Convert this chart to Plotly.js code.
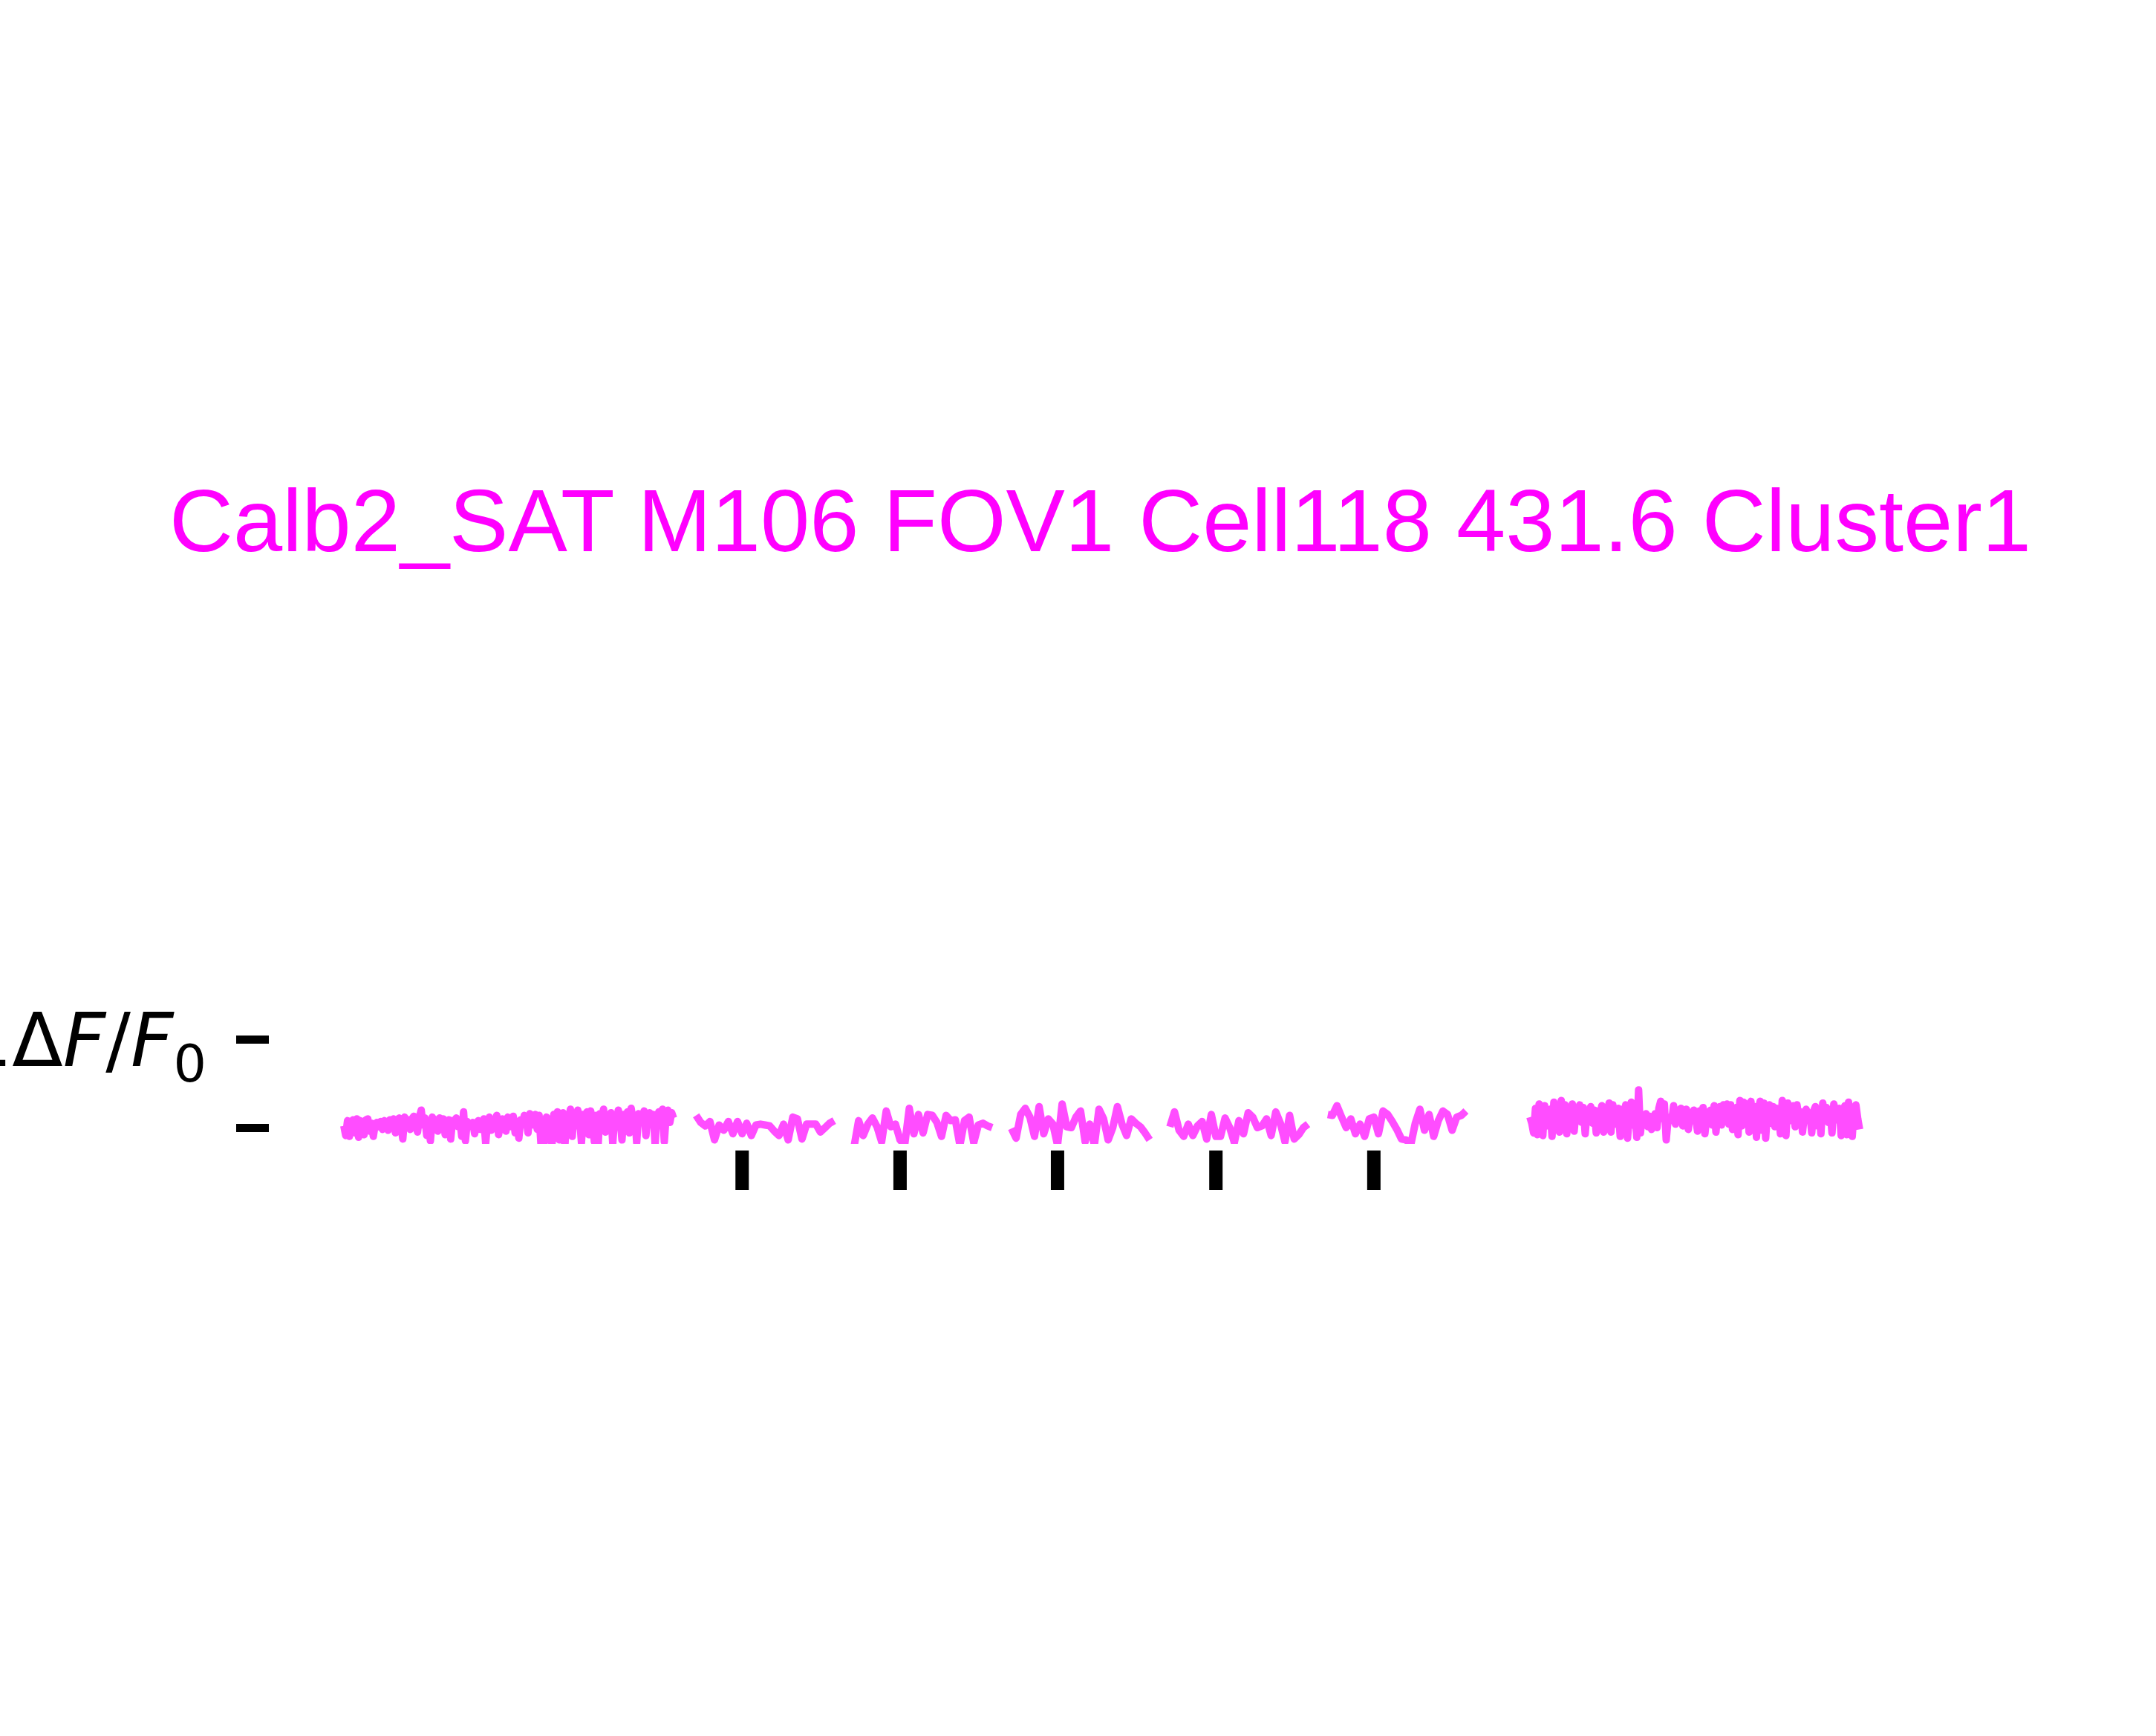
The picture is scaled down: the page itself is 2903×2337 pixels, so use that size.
<!DOCTYPE html>
<html>
<head>
<meta charset="utf-8">
<script src="https://cdn.plot.ly/plotly-3.0.1.min.js"></script>
<style>
  html, body { margin: 0; padding: 0; background: #fff; }
  #chart { width: 2903px; height: 2337px; }
  /* rounded corners on the noisy traces, like the original renderer */
  #chart .scatterlayer .js-line { stroke-linejoin: round !important; }
</style>
</head>
<body>
<div id="chart"></div>
<script>
// ── Data ─────────────────────────────────────────────────────────────────

const TITLE = 'Calb2_SAT M106 FOV1 Cell118 431.6 Cluster1';

// scale bar on the y axis (ΔF/F0 units): labelled tick + bare zero tick
const scaleTicks  = [1];
const scaleLabels = ['1Δ<i>F</i>/<i>F</i><sub>0</sub>'];
const zeroTicks   = [0];

// spontaneous activity before / after the stimulus block, 25 Hz
const BASELINE_DT = 0.04;
const baselinePreStart  = 0;
const baselinePostStart = 25.76;

const baselinePre = [
  0.02, -0.09, 0.08, -0.10, 0.06, 0.09, -0.06, 0.10, -0.11, 0.08, 0.03, -0.08, 0.09, 0.10, -0.04, 0.05, -0.10, 0.04, 0.06, 0.01,
  0.07, -0.02, 0.08, 0.05, -0.03, 0.09, 0.07, 0.10, -0.06, 0.08, 0.11, 0.03, -0.13, 0.12, 0.06, 0.09, -0.02, 0.10, 0.13, 0.04,
  -0.05, 0.12, 0.20, 0.03, 0.11, -0.09, 0.07, -0.15, 0.12, 0.05, 0.09, -0.04, 0.11, 0.02, 0.10, -0.08, 0.06, 0.09, -0.13, 0.08,
  0.04, 0.11, 0.01, 0.09, -0.10, 0.18, -0.15, 0.07, 0.04, 0.02, 0.06, -0.07, 0.03, 0.08, -0.02, 0.05, 0.10, -0.18, 0.07, 0.12,
  -0.03, 0.09, 0.06, 0.14, -0.08, 0.04, 0.10, 0.08, -0.04, 0.12, 0.01, 0.08, 0.13, -0.06, 0.07, -0.12, 0.09, 0.05, 0.14, 0.10,
  -0.06, 0.16, 0.13, 0.03, 0.15, -0.02, 0.14, -0.18, 0.09, -0.16, 0.12, 0.05, 0.10, -0.20, 0.15, 0.08, 0.18, -0.14, 0.11, 0.17,
  -0.21, 0.13, 0.07, 0.21, -0.10, 0.16, 0.02, 0.20, 0.12, -0.17, 0.15, 0.11, 0.18, -0.08, 0.19, 0.09, -0.16, 0.14, -0.22, 0.16,
  0.10, 0.21, -0.05, 0.13, 0.08, 0.17, -0.18, 0.12, 0.06, 0.20, 0.11, -0.14, 0.15, 0.10, 0.18, -0.06, 0.22, 0.09, 0.14, -0.17,
  0.16, 0.12, 0.07, 0.19, -0.09, 0.13, 0.17, 0.04, 0.15, -0.19, 0.12, 0.18, 0.08, 0.21, -0.16, 0.14, 0.20, 0.06, 0.17, 0.11,
];

const baselinePost = [
  0.12, 0.05, -0.06, 0.22, -0.08, 0.27, 0.10, -0.09, 0.25, 0.02, 0.18, 0.21, -0.10, 0.29, 0.16, 0.24, -0.05, 0.31, 0.08, 0.26,
  -0.07, 0.20, 0.14, 0.27, -0.04, 0.18, 0.09, 0.26, 0.06, 0.23, -0.07, 0.17, 0.11, 0.24, 0.05, 0.20, -0.06, 0.19, 0.13, 0.25,
  -0.05, 0.22, 0.18, 0.28, -0.05, 0.26, 0.04, 0.15, 0.22, -0.10, 0.21, 0.10, 0.26, -0.12, 0.16, 0.29, 0.03, 0.19, -0.11, 0.43,
  -0.06, 0.14, 0.12, 0.16, 0.01, 0.13, -0.02, 0.07, 0.16, 0.00, 0.22, 0.30, 0.10, 0.27, -0.14, 0.09, 0.12, 0.08, 0.25, 0.04,
  0.20, 0.13, 0.22, 0.02, 0.16, 0.21, -0.02, 0.15, 0.08, 0.20, 0.11, -0.04, 0.19, 0.14, 0.23, -0.07, 0.12, 0.16, 0.20, 0.03,
  0.25, -0.05, 0.18, 0.24, 0.03, 0.26, 0.10, 0.27, 0.04, 0.26, -0.02, 0.17, 0.23, -0.08, 0.31, 0.02, 0.29, 0.15, 0.27, -0.05,
  0.30, 0.06, 0.24, -0.11, 0.21, 0.30, -0.03, 0.28, -0.12, 0.20, 0.26, 0.05, 0.24, 0.01, 0.22, 0.17, -0.07, 0.31, 0.14, -0.09,
  0.28, 0.08, 0.19, 0.25, 0.01, 0.26, 0.12, 0.18, -0.05, 0.14, 0.21, 0.09, 0.17, -0.06, 0.19, 0.24, 0.02, 0.20, -0.07, 0.28,
  0.12, 0.23, 0.06, 0.20, -0.06, 0.27, 0.15, 0.09, 0.22, -0.09, 0.17, 0.25, -0.08, 0.29, 0.13, -0.10, 0.21, 0.26, 0.10, -0.02,
];

// stimulus-locked windows, 10 Hz, from -1 s to +2 s around each event
const EVENT_DT  = 0.1;
const EVENT_PRE = 1.0;
const eventTimes = [8.65, 12.08, 15.50, 18.94, 22.37];

const event1 = [0.14, 0.06, 0.02, 0.07, -0.14, 0.03, -0.03, 0.07, -0.07, 0.07, -0.07, 0.05, -0.09, 0.03, 0.04, 0.03,
                0.02, -0.04, -0.09, 0.04, -0.14, 0.12, 0.10, -0.13, 0.04, 0.04, 0.04, -0.05, 0.00, 0.05, 0.08];
const event2 = [-0.22, 0.08, -0.09, 0.04, 0.11, 0.01, -0.16, 0.19, 0.01, 0.04, -0.14, -0.20, 0.22, -0.07, 0.15, -0.06,
                0.15, 0.14, 0.06, -0.10, 0.14, 0.08, 0.09, -0.20, 0.08, 0.12, -0.17, 0.03, 0.05, 0.02, 0.00];
const event3 = [-0.01, -0.12, 0.15, 0.22, 0.12, -0.10, 0.24, -0.07, 0.10, 0.04, -0.20, 0.27, 0.01, 0.00, 0.12, 0.19,
                -0.16, 0.04, -0.20, 0.21, 0.10, -0.14, 0.00, 0.24, 0.04, -0.09, 0.10, 0.05, 0.01, -0.06, -0.14];
const event4 = [0.01, 0.18, -0.03, -0.10, 0.04, -0.09, 0.02, 0.07, -0.13, 0.15, -0.10, -0.10, 0.11, 0.00, -0.17, 0.08,
                -0.07, 0.17, 0.12, 0.00, 0.02, 0.10, -0.09, 0.18, 0.05, -0.16, 0.14, -0.13, -0.08, 0.00, 0.04];
const event5 = [0.15, 0.14, 0.25, 0.12, 0.00, 0.10, -0.07, 0.04, -0.10, 0.10, 0.12, -0.07, 0.19, 0.15, 0.07, -0.02,
                -0.13, -0.14, -0.20, 0.05, 0.21, -0.03, 0.15, -0.10, 0.08, 0.19, 0.15, -0.03, 0.12, 0.14, 0.19];
const eventTraces = [event1, event2, event3, event4, event5];

// level (ΔF/F0) of the stimulus tick marks under the traces
const EVENT_MARK_LEVEL = -0.485;

// ── Styling ──────────────────────────────────────────────────────────────

const TRACE_COLOR = '#ff4dff';
const TITLE_COLOR = '#ff00ff';

// y range of the trace panel (traces get clipped at its lower edge)
const Y_TRACE = [-0.186, 1.508];
// strip under the traces holding the stimulus ticks, same units per px
const Y_STIM  = [-0.864, -0.186];
const SPLIT   = 80 / 280;   // fraction of the plot height used by the strip

function sampleTimes(t0, dt, n) {
  const out = new Array(n);
  for (let i = 0; i < n; i++) out[i] = t0 + i * dt;
  return out;
}

function lineTrace(t0, dt, values) {
  return {
    x: sampleTimes(t0, dt, values.length),
    y: values,
    type: 'scatter',
    mode: 'lines',
    line: { color: TRACE_COLOR, width: 10, simplify: false },
    hoverinfo: 'skip',
  };
}

const traces = [
  lineTrace(baselinePreStart, BASELINE_DT, baselinePre),
  ...eventTraces.map((vals, i) => lineTrace(eventTimes[i] - EVENT_PRE, EVENT_DT, vals)),
  lineTrace(baselinePostStart, BASELINE_DT, baselinePost),
  {
    x: eventTimes,
    y: eventTimes.map(() => EVENT_MARK_LEVEL),
    xaxis: 'x',
    yaxis: 'y2',
    type: 'scatter',
    mode: 'markers',
    // stroke caps add half the width at each end
    marker: { symbol: 'line-ns', size: 38, color: '#000', line: { color: '#000', width: 18 } },
    hoverinfo: 'skip',
  },
];

const layout = {
  width: 2903,
  height: 2337,
  paper_bgcolor: '#ffffff',
  plot_bgcolor: '#ffffff',
  margin: { l: 363, r: 303, t: 1340, b: 717, pad: 0 },
  showlegend: false,
  title: {
    text: TITLE,
    font: { family: 'Liberation Sans, Arial, sans-serif', size: 119, color: TITLE_COLOR },
    x: 0.5, xref: 'paper', xanchor: 'center',
    y: 0.7005, yref: 'container', yanchor: 'middle',
  },
  xaxis: {
    visible: false,
    range: [-1.613, 34.47],
    anchor: 'y',
  },
  yaxis: {
    domain: [SPLIT, 1],
    range: Y_TRACE,
    tickmode: 'array',
    tickvals: scaleTicks,
    ticktext: scaleLabels,
    ticks: 'outside',
    ticklen: 44,
    tickwidth: 11,
    tickcolor: '#000',
    ticklabelstandoff: 20,
    tickfont: { family: 'DejaVu Sans, sans-serif', size: 100, color: '#000' },
    minor: {
      tickmode: 'array',
      tickvals: zeroTicks,
      ticks: 'outside',
      ticklen: 44,
      tickwidth: 11,
      tickcolor: '#000',
      showgrid: false,
    },
    showline: false,
    showgrid: false,
    zeroline: false,
  },
  yaxis2: {
    domain: [0, SPLIT],
    range: Y_STIM,
    anchor: 'x',
    visible: false,
  },
};

Plotly.newPlot('chart', traces, layout, { displayModeBar: false, staticPlot: true });
</script>
</body>
</html>
